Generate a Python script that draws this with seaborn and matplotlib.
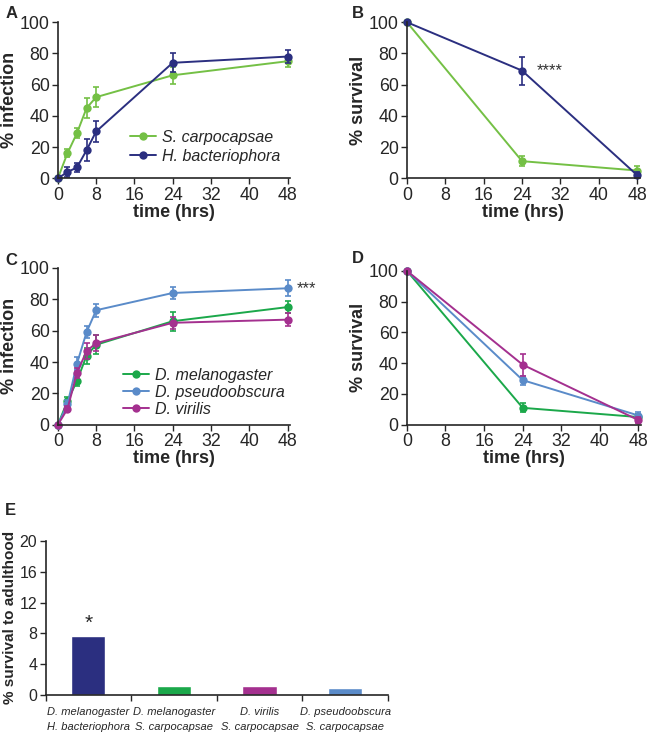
import numpy as np
import pandas as pd
import matplotlib
matplotlib.use('Agg')
import matplotlib.pyplot as plt
import seaborn as sns

sns.set_style('ticks')
plt.rcParams['font.family'] = ['Liberation Sans', 'DejaVu Sans']

# colours
navy = '#2B2F80'
lightgreen = '#74C045'
green = '#1BA84A'
blue = '#5A8BC9'
magenta = '#A4308F'

# Panel A - infection over time
time_inf = [0, 2, 4, 6, 8, 24, 48]
sc_inf = [0, 16, 29, 45, 52, 66, 75]
sc_inf_err = [0, 2.5, 3, 6.5, 6.5, 5.5, 3.5]
hb_inf = [0, 4, 7, 18, 30, 74, 78]
hb_inf_err = [0, 3, 3, 7, 7, 6, 4]

# Panel B - survival
time_surv = [0, 24, 48]
sc_surv = [100, 11, 5]
sc_surv_err = [0, 3, 3]
hb_surv = [100, 69, 2]
hb_surv_err = [0, 9, 2]

# Panel C - infection of Drosophila species
mel_inf = [0, 15, 28, 44, 51, 66, 75]
mel_inf_err = [0, 3, 3, 5, 6, 6, 4]
pse_inf = [0, 13, 39, 59, 73, 84, 87]
pse_inf_err = [0, 3, 4, 4, 4, 4, 5]
vir_inf = [0, 10, 33, 47, 52, 65, 67]
vir_inf_err = [0, 2, 3, 5, 5, 4, 4]

# Panel D - survival of Drosophila species
mel_surv = [100, 11, 5]
mel_surv_err = [0, 3, 2]
pse_surv = [100, 29, 6]
pse_surv_err = [0, 3, 2]
vir_surv = [100, 39, 3]
vir_surv_err = [0, 7, 2]

# Panel E - survival to adulthood
e_labels = ['D. melanogaster\nH. bacteriophora', 'D. melanogaster\nS. carpocapsae',
            'D. virilis\nS. carpocapsae', 'D. pseudoobscura\nS. carpocapsae']
e_values = [7.7, 1.1, 1.2, 0.9]
e_colors = [navy, green, magenta, blue]

fig = plt.figure(figsize=(6.5, 7.4), dpi=100)
axA = fig.add_axes([0.089, 0.759, 0.357, 0.211])
axB = fig.add_axes([0.626, 0.759, 0.358, 0.211])
axC = fig.add_axes([0.089, 0.426, 0.357, 0.212])
axD = fig.add_axes([0.626, 0.426, 0.360, 0.208])
axE = fig.add_axes([0.070, 0.061, 0.527, 0.208])


def draw_series(ax, x, y, err, color, label=None):
    df = pd.DataFrame({'time': x, 'value': y})
    sns.lineplot(data=df, x='time', y='value', ax=ax, color=color, marker='o',
                 markersize=6, markeredgewidth=0, linewidth=1.4, label=label,
                 legend=False)
    ax.errorbar(x, y, yerr=err, fmt='none', ecolor=color, elinewidth=1.2,
                capsize=2.5, capthick=1.2)


def style_time_axis(ax, ylabel):
    ax.set_xlim(0, 48.5)
    ax.set_ylim(0, 100)
    ax.set_xticks([0, 8, 16, 24, 32, 40, 48])
    ax.set_yticks([0, 20, 40, 60, 80, 100])
    ax.tick_params(labelsize=12.8, length=4, width=1, pad=2)
    ax.set_xlabel('time (hrs)', fontsize=13, fontweight='bold', labelpad=0)
    ax.set_ylabel(ylabel, fontsize=13, fontweight='bold', labelpad=1)
    for s in ['left', 'bottom']:
        ax.spines[s].set_linewidth(1.2)
    sns.despine(ax=ax)
    for line in ax.lines:
        line.set_clip_on(False)


# A
draw_series(axA, time_inf, sc_inf, sc_inf_err, lightgreen, 'S. carpocapsae')
draw_series(axA, time_inf, hb_inf, hb_inf_err, navy, 'H. bacteriophora')
style_time_axis(axA, '% infection')
axA.legend(loc='lower right', bbox_to_anchor=(1.02, 0.0), frameon=False,
           prop={'style': 'italic', 'size': 11.5}, handlelength=1.6,
           handletextpad=0.4, labelspacing=0.25)

# B
draw_series(axB, time_surv, sc_surv, sc_surv_err, lightgreen)
draw_series(axB, time_surv, hb_surv, hb_surv_err, navy)
style_time_axis(axB, '% survival')
axB.text(27, 69, '****', fontsize=12, va='center', ha='left', color='#333333')

# C
draw_series(axC, time_inf, mel_inf, mel_inf_err, green, 'D. melanogaster')
draw_series(axC, time_inf, pse_inf, pse_inf_err, blue, 'D. pseudoobscura')
draw_series(axC, time_inf, vir_inf, vir_inf_err, magenta, 'D. virilis')
style_time_axis(axC, '% infection')
axC.legend(loc='lower right', bbox_to_anchor=(1.04, -0.04), frameon=False,
           prop={'style': 'italic', 'size': 11.5}, handlelength=1.6,
           handletextpad=0.4, labelspacing=0.12)
axC.text(50, 87, '***', fontsize=12, va='center', ha='left', color='#333333')

# D
draw_series(axD, time_surv, mel_surv, mel_surv_err, green)
draw_series(axD, time_surv, pse_surv, pse_surv_err, blue)
draw_series(axD, time_surv, vir_surv, vir_surv_err, magenta)
style_time_axis(axD, '% survival')

# E
dfE = pd.DataFrame({'group': e_labels, 'value': e_values})
sns.barplot(data=dfE, x='group', y='value', hue='group', palette=e_colors,
            ax=axE, width=0.4, legend=False, saturation=1)
axE.set_ylim(0, 20)
axE.set_xlim(-0.5, 3.5)
axE.set_yticks([0, 4, 8, 12, 16, 20])
axE.set_xticks([])
axE.set_xticks([-0.5, 0.5, 1.5, 2.5, 3.5], minor=True)
axE.tick_params(axis='x', which='minor', length=4, width=1)
axE.tick_params(axis='y', labelsize=11.5, length=4, width=1, pad=2)
for i, lab in enumerate(e_labels):
    axE.text(i, -1.6, lab, ha='center', va='top', fontsize=8, style='italic',
             linespacing=1.55, transform=axE.transData)
axE.text(0, e_values[0] + 0.3, '*', ha='center', va='bottom', fontsize=15)
axE.set_xlabel('')
axE.set_ylabel('% survival to adulthood', fontsize=11, fontweight='bold',
               labelpad=2)
for s in ['left', 'bottom']:
    axE.spines[s].set_linewidth(1.2)
sns.despine(ax=axE)

# panel letters
for lab, (x, y) in zip('ABCDE', [(0.008, 0.972), (0.541, 0.972), (0.008, 0.638),
                                 (0.541, 0.640), (0.008, 0.300)]):
    fig.text(x, y, lab, fontsize=12, fontweight='bold', ha='left', va='bottom')

fig.savefig('out.png', dpi=100)
